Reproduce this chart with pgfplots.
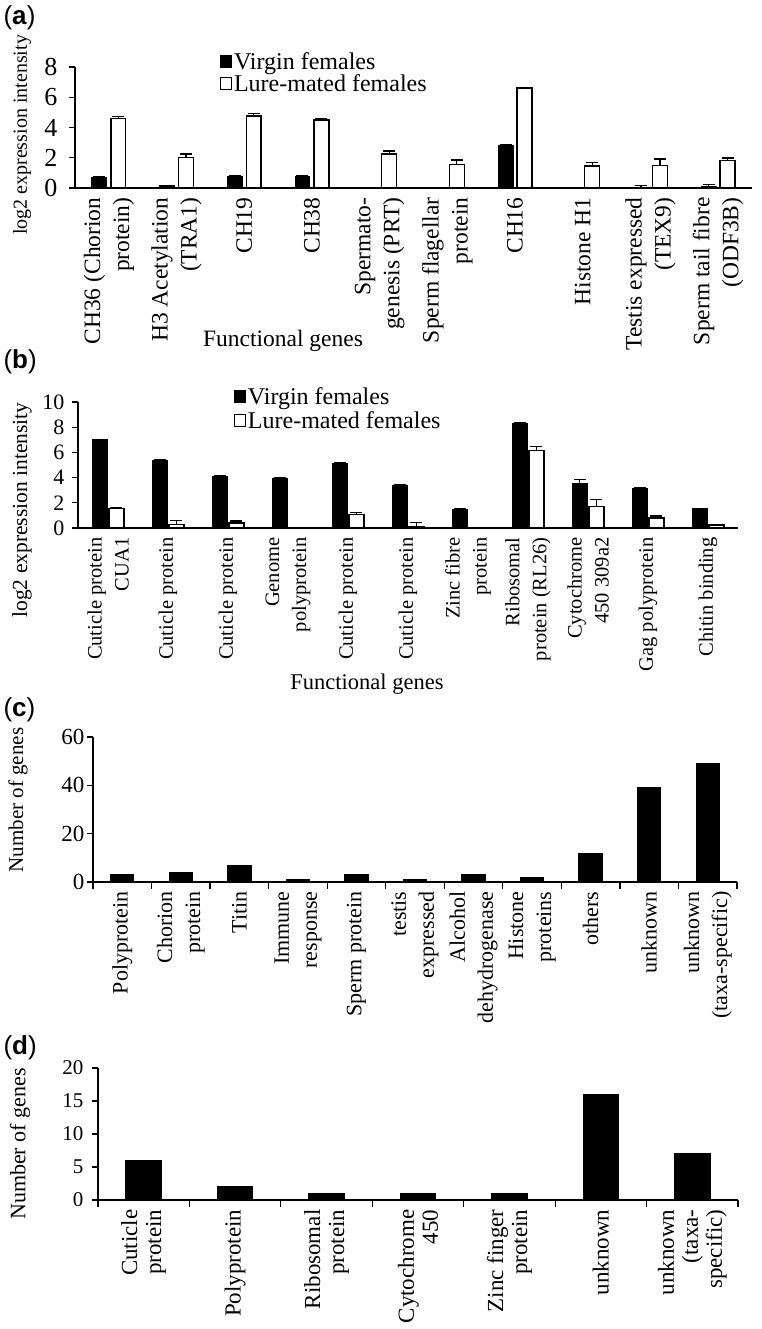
\documentclass[border=0pt]{standalone}
\usepackage{pgfplots}
\pgfplotsset{compat=1.18}
\usepackage{fontspec}
\setmainfont{Liberation Serif}
\newfontfamily\arialf{Liberation Sans}
\pgfplotsset{
  base/.style={
    scale only axis, axis lines*=left,
    axis line style={line width=1.2bp},
    every tick/.style={black, line width=1.2bp},
    ymin=0, xmin=-0.5,
    tick align=outside, ytick pos=left, xtick pos=bottom,
    major tick length=6bp, minor tick length=7bp,
    /pgf/number format/assume math mode=true,
    xticklabel style={rotate=90, anchor=east, align=right},
    clip=false,
  },
  bars/.style={
    ybar, bar width=0.22,
    legend image code/.code={\draw[##1, line width=1bp] (0bp,-6bp) rectangle (11bp,6bp);},
    legend style={draw=none, fill=none, font=\fontsize{24bp}{24bp}\selectfont, anchor=north west, legend cell align=left, row sep=0bp, inner sep=0bp},
    error bars/y dir=plus, error bars/y explicit,
    error bars/error mark options={rotate=90, mark size=6bp, line width=1.2bp},
    error bars/error bar style={line width=1.2bp},
  },
  blk/.style={fill=black, draw=black, line width=1bp},
  wht/.style={fill=white, draw=black, line width=1.4bp},
}
\begin{document}
\begin{tikzpicture}
\path[use as bounding box] (0,0) rectangle (762bp,-1329bp);
% ---------- (a)
\begin{axis}[base, bars, at={(75bp,-188bp)}, anchor=south west,
  width=677bp, height=121bp, xmax=9.5, ymax=8, ytick={0,2,...,8},
  yticklabel style={font=\fontsize{26bp}{26bp}\selectfont, xshift=-8bp},
  xticklabel style={font=\fontsize{23.5bp}{29bp}\selectfont},
  xtick={0,...,9}, xtick style={draw=none},
  xticklabels={{CH36 (Chorion\\protein)},{H3 Acetylation\\(TRA1)},CH19,CH38,{Spermato-\\genesis (PRT)},{Sperm flagellar\\protein},CH16,Histone H1,{Testis expressed\\(TEX9)},{Sperm tail fibre\\(ODF3B)}},
  legend style={at={(0.214,1.14)}}]
\addplot[blk, bar shift=-0.14] coordinates {(0,0.7) +- (0,0.06) (1,0.15) +- (0,0.04) (2,0.75) +- (0,0.05) (3,0.75) +- (0,0.05) (4,0) +- (0,0) (5,0) +- (0,0) (6,2.8) +- (0,0.06) (7,0) +- (0,0) (8,0) +- (0,0.18) (9,0.08) +- (0,0.16)};
\addplot[wht, bar shift=0.14] coordinates {(0,4.6) +- (0,0.12) (1,2.0) +- (0,0.25) (2,4.75) +- (0,0.17) (3,4.5) +- (0,0.1) (4,2.25) +- (0,0.2) (5,1.55) +- (0,0.3) (6,6.6) +- (0,0) (7,1.45) +- (0,0.22) (8,1.5) +- (0,0.42) (9,1.8) +- (0,0.18)};
\legend{Virgin females, Lure-mated females}
\end{axis}
% ---------- (b)
\begin{axis}[base, bars, at={(78bp,-528bp)}, anchor=south west,
  width=660bp, height=126bp, xmax=10.5, ymax=10, ytick={0,2,...,10},
  yticklabel style={font=\fontsize{22bp}{22bp}\selectfont, xshift=-4bp},
  xticklabel style={font=\fontsize{20.5bp}{27bp}\selectfont},
  bar width=0.25,
  xtick={0,...,10}, xtick style={draw=none},
  xticklabels={{Cuticle protein\\CUA1},Cuticle protein,Cuticle protein,{Genome\\polyprotein},Cuticle protein,Cuticle protein,{Zinc fibre\\protein},{Ribosomal\\protein (RL26)},{Cytochrome\\450 309a2},Gag polyprotein,Chitin binding},
  legend style={at={(0.236,1.135)}, row sep=2bp}]
\addplot[blk, bar shift=-0.14] coordinates {(0,7.0) +- (0,0.05) (1,5.35) +- (0,0.05) (2,4.1) +- (0,0.05) (3,3.95) +- (0,0.03) (4,5.15) +- (0,0.05) (5,3.4) +- (0,0.05) (6,1.5) +- (0,0.07) (7,8.3) +- (0,0.05) (8,3.55) +- (0,0.3) (9,3.1) +- (0,0.1) (10,1.55) +- (0,0)};
\addplot[wht, bar shift=0.14] coordinates {(0,1.55) +- (0,0.07) (1,0.3) +- (0,0.3) (2,0.4) +- (0,0.15) (3,0.05) +- (0,0) (4,1.05) +- (0,0.15) (5,0.1) +- (0,0.35) (6,0.05) +- (0,0) (7,6.15) +- (0,0.35) (8,1.7) +- (0,0.55) (9,0.8) +- (0,0.15) (10,0.25) +- (0,0)};
\legend{Virgin females, Lure-mated females}
\end{axis}
% ---------- (c)
\begin{axis}[base, ybar, bar width=0.4, at={(93bp,-882bp)}, anchor=south west,
  width=644bp, height=145bp, xmax=10.5, ymax=60, ytick={0,20,40,60},
  x axis line style={shorten <=-6bp},
  yticklabel style={font=\fontsize{23bp}{23bp}\selectfont, xshift=1bp},
  xticklabel style={font=\fontsize{22bp}{28bp}\selectfont},
  xtick={0,...,10}, major x tick style={draw=none},
  minor xtick={-0.5,0.5,...,10.5},
  xticklabels={Polyprotein,{Chorion\\protein},Titin,{Immune\\response},Sperm protein,{testis\\expressed},{Alcohol\\dehydrogenase},{Histone\\proteins},others,unknown,{unknown\\(taxa-specific)}}]
\addplot[blk, bar shift=0] coordinates {(0,3) (1,4) (2,7) (3,1) (4,3) (5,1) (6,3) (7,2) (8,12) (9,39) (10,49)};
\end{axis}
% ---------- (d)
\begin{axis}[base, ybar, bar width=0.39, at={(98bp,-1200bp)}, anchor=south west,
  width=640bp, height=132bp, xmax=6.5, ymax=20, ytick={0,5,...,20},
  x axis line style={shorten <=-6bp},
  yticklabel style={font=\fontsize{21bp}{21bp}\selectfont, xshift=-5bp},
  xticklabel style={font=\fontsize{23bp}{24bp}\selectfont},
  xtick={0,...,6}, major x tick style={draw=none},
  minor xtick={-0.5,0.5,...,6.5},
  xticklabels={{Cuticle\\protein},Polyprotein,{Ribosomal\\protein},{Cytochrome\\450},{Zinc finger\\protein},unknown,{unknown\\(taxa-\\specific)}}]
\addplot[blk, bar shift=0] coordinates {(0,6) (1,2) (2,1) (3,1) (4,1) (5,16) (6,7)};
\end{axis}
% ---------- labels
\node[anchor=west, font=\fontsize{26bp}{26bp}\selectfont\arialf] at (0bp,-18bp) {(\textbf{a})};
\node[anchor=west, font=\fontsize{26bp}{26bp}\selectfont\arialf] at (0bp,-362bp) {(\textbf{b})};
\node[anchor=west, font=\fontsize{26bp}{26bp}\selectfont\arialf] at (0bp,-710bp) {(\textbf{c})};
\node[anchor=west, font=\fontsize{26bp}{26bp}\selectfont\arialf] at (0bp,-1048bp) {(\textbf{d})};
\node[rotate=90, font=\fontsize{20bp}{20bp}\selectfont] at (22bp,-135bp) {log2 expression intensity};
\node[rotate=90, font=\fontsize{21.5bp}{21.5bp}\selectfont] at (22bp,-510bp) {log2 expression intensity};
\node[rotate=90, font=\fontsize{21bp}{21bp}\selectfont] at (18bp,-800bp) {Number of genes};
\node[rotate=90, font=\fontsize{22bp}{22bp}\selectfont] at (20bp,-1144bp) {Number of genes};
\node[font=\fontsize{23.5bp}{23.5bp}\selectfont] at (283bp,-341bp) {Functional genes};
\node[font=\fontsize{22.5bp}{22.5bp}\selectfont] at (367bp,-684bp) {Functional genes};
\end{tikzpicture}
\end{document}
